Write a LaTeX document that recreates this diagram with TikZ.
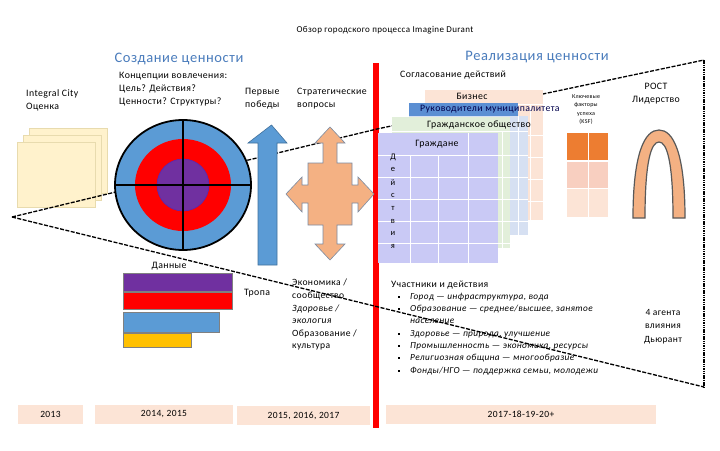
\documentclass[tikz,border=0pt]{standalone}
\usepackage{fontspec}
\setmainfont{Carlito}[LetterSpace=4]
\usetikzlibrary{positioning}

\definecolor{headblue}{HTML}{4A7CBC}
\definecolor{ringblue}{HTML}{5B9BD5}
\definecolor{arrowline}{HTML}{41719C}
\definecolor{ringpurple}{HTML}{7030A0}
\definecolor{pageyellow}{HTML}{FFF2CC}
\definecolor{pageedge}{HTML}{E8DBAE}
\definecolor{quadfill}{HTML}{F4B183}
\definecolor{quadline}{HTML}{7C8CA3}
\definecolor{baryellow}{HTML}{FFC000}
\definecolor{peach}{HTML}{FCE4D6}
\definecolor{lavender}{HTML}{C9C9F5}
\definecolor{civgreen}{HTML}{E2EFDA}
\definecolor{munblue}{HTML}{5B8FD3}
\definecolor{munpale}{HTML}{D6E0F2}
\definecolor{ksforange}{HTML}{ED7D31}
\definecolor{ksfpink}{HTML}{F8CFC0}
\definecolor{archline}{HTML}{595959}

\tikzset{
  txt/.style={font=\fontsize{9.8}{13}\selectfont, inner sep=0pt, align=left},
  head/.style={font=\fontsize{14.5}{16}\selectfont, text=headblue, inner sep=0pt},
  item/.style={font=\fontsize{9.3}{12}\selectfont\itshape, inner sep=0pt, anchor=west},
  bar/.style={draw=black!50, line width=0.4},
  page/.style={fill=pageyellow, draw=pageedge, line width=0.5},
  yearbox/.style={fill=peach, inner sep=0pt, minimum height=19, font=\fontsize{9.5}{10}\selectfont},
  funnel/.style={line width=1.3, dash pattern=on 4pt off 1.5pt},
  gridline/.style={white, line width=0.8},
}

\begin{document}
\begin{tikzpicture}[x=1pt,y=-1pt]
\useasboundingbox (0,0) rectangle (720,450);
\fill[white] (0,0) rectangle (720,450);

% Assessment pages
\draw[page] (29,128) rectangle (107,193);
\draw[page] (23,135) rectangle (101,200);
\draw[page] (17,142) rectangle (95,207);

% Divider
\fill[red] (373,63) rectangle (379,428);

% Funnel outline
\coordinate (tip) at (12,217);
\coordinate (bend) at (377,129);
\coordinate (topR) at (704,60);
\coordinate (botR) at (704,387);
\draw[funnel] (tip) -- (bend) -- (topR);
\draw[funnel] (tip) -- (botR);
\draw[line width=1.8, dash pattern=on 1.5pt off 0.8pt] (topR) -- (botR);

% Target
\fill[ringblue] (183,185) ellipse [x radius=68, y radius=65];
\fill[red] (183,185) ellipse [x radius=48, y radius=46];
\draw[ringpurple!80!blue, line width=0.6, fill=ringpurple] (183,185) circle [radius=26];
\draw[line width=1.8] (183,185) ellipse [x radius=68, y radius=65];
\draw[line width=1.2] (115,185) -- (251,185);
\draw[line width=1.2] (183,120) -- (183,250);

% First wins arrow
\draw[fill=ringblue, draw=arrowline, line width=0.6]
  (271.5,125) -- (287,143) -- (277,143) -- (277,265) -- (258,265) -- (258,143) -- (248,143) -- cycle;

% Strategic questions, four-way arrow
\draw[fill=quadfill, draw=quadline, line width=0.6]
  (330,127) -- (345,143) -- (337,143) -- (337,163) -- (352,163) -- (352,185) -- (358,185)
  -- (358,177) -- (374,194) -- (358,212) -- (358,203) -- (352,203) -- (352,225) -- (337,225)
  -- (337,244) -- (345,244) -- (330,260) -- (315,244) -- (323,244) -- (323,225) -- (308,225)
  -- (308,203) -- (302,203) -- (302,212) -- (286,194) -- (302,177) -- (302,185) -- (308,185)
  -- (308,163) -- (323,163) -- (323,143) -- (315,143) -- cycle;

% Business layer
\fill[peach] (425,90) rectangle (543,220);
\foreach \yy in {104,135,157,179,201} \draw[gridline] (425,\yy) -- (543,\yy);
\foreach \xx in {455,485,514,530} \draw[gridline] (\xx,104) -- (\xx,220);

% Municipal layer
\fill[munpale] (409,116) rectangle (528,235);
\fill[munblue] (409,103) rectangle (518,116);
\foreach \yy in {131,155,177,199,221} \draw[gridline] (409,\yy) -- (528,\yy);
\draw[gridline] (518,116) -- (518,235);

% Civil society layer
\fill[civgreen] (392,117) rectangle (510,248);
\foreach \yy in {131,155,177,199,221,243} \draw[gridline] (392,\yy) -- (510,\yy);
\draw[gridline] (502,131) -- (502,248);

% Citizens layer
\fill[lavender] (378,133) rectangle (498,263);
\foreach \yy in {155,177,199,221,243} \draw[gridline] (378,\yy) -- (498,\yy);
\foreach \xx in {410,438} \draw[gridline] (\xx,155) -- (\xx,263);
\draw[gridline] (468,133) -- (468,263);

% Key success factors
\fill[ksforange] (567,133) rectangle (608,160);
\fill[ksfpink] (567,162) rectangle (608,188);
\fill[peach] (567,189) rectangle (608,217);
\draw[gridline] (588,133) -- (588,217);

% Leadership arch
\draw[fill=quadfill, draw=archline, line width=1.2]
  (633,218) .. controls (633,152) and (645,130) .. (659,130)
  .. controls (673,130) and (685,152) .. (685,218) -- (673,218)
  .. controls (673,162) and (667,142) .. (659,142)
  .. controls (651,142) and (645,162) .. (645,218) -- cycle;

% Data bars
\draw[bar, fill=ringpurple] (122.7,273.3) rectangle (231.7,290.7);
\draw[bar, fill=red] (122.7,291.7) rectangle (231.7,309.3);
\draw[bar, fill=ringblue] (122.7,311.7) rectangle (219.3,331.7);
\draw[bar, fill=baryellow] (122.7,332.7) rectangle (191,347.3);

% Timeline
\node[yearbox, minimum width=65] (y2013) at (50.5,414.5) {2013};
\node[yearbox, minimum width=138] (y2014) at (164,414.5) {2014, 2015};
\node[yearbox, minimum width=133] (y2015) at (303.5,415.5) {2015, 2016, 2017};
\node[yearbox, minimum width=270] (y2017) at (521,414.5) {2017-18-19-20+};

% Headings
\node[txt, font=\fontsize{9}{10}\selectfont] (title) at (385,30) {Обзор городского процесса Imagine Durant};
\node[head] (create) at (179,59) {Создание ценности};
\node[head] (realise) at (537,57) {Реализация ценности};

% Value creation labels
\node[txt, anchor=north west] (icity) at (26,89) {Integral City\\Оценка};
\node[txt, anchor=north west] (concepts) at (119,72) {Концепции вовлечения:\\Цель? Действия?\\Ценности? Структуры?};
\node[txt, anchor=north west] (wins) at (245,88) {Первые\\победы};
\node[txt, anchor=north west] (strat) at (297,88) {Стратегические\\вопросы};
\node[txt] (data) at (169,266) {Данные};
\node[txt, anchor=west] (path) at (244,293) {Тропа};
\node[txt, anchor=north west, font=\fontsize{9.6}{12.6}\selectfont] (domains) at (292,279)
  {Экономика /\\сообщество\\\textit{Здоровье /}\\\textit{экология}\\Образование /\\культура};

% Value realisation labels
\node[txt, anchor=west] (align) at (400,75) {Согласование действий};
\node[txt] (business) at (472,96) {Бизнес};
\node[txt, anchor=west, text=blue!30!black] (mun) at (420,109.5) {Руководители муниципалитета};
\node[txt, anchor=west] (civil) at (427,124.5) {Гражданское общество};
\node[txt] (citizens) at (437,144) {Граждане};
\foreach \ch [count=\i from 0] in {Д,е,й,с,т,в,и,я}
  \node[txt, font=\fontsize{8.5}{10}\selectfont] (act\i) at (393,157+12.8*\i) {\ch};
\node[txt, align=center, font=\fontsize{6}{8.2}\selectfont] (ksf) at (586,109.5) {Ключевые\\факторы\\успеха\\(KSF)};
\node[txt, align=center] (growth) at (656,94) {РОСТ\\Лидерство};
\node[txt, align=center, font=\fontsize{9.5}{13.5}\selectfont] (agents) at (663,326.5) {4 агента\\влияния\\Дьюрант};

% Participants
\node[txt, anchor=west] (players) at (391,285) {Участники и действия};
\node[item] (it1) at (410,297) {Город — инфраструктура, вода};
\node[item] (it2) at (410,309) {Образование — среднее/высшее, занятое};
\node[item] (it2b) at (410,321) {население};
\node[item] (it3) at (410,334) {Здоровье — природа, улучшение};
\node[item] (it4) at (410,346) {Промышленность — экономика, ресурсы};
\node[item] (it5) at (410,358) {Религиозная община — многообразие};
\node[item] (it6) at (410,371) {Фонды/НГО — поддержка семьи, молодежи};
\foreach \yy in {297,309,334,346,358,371} \fill (397.8,\yy-1.2) rectangle ++(2.4,2.4);

\end{tikzpicture}
\end{document}
